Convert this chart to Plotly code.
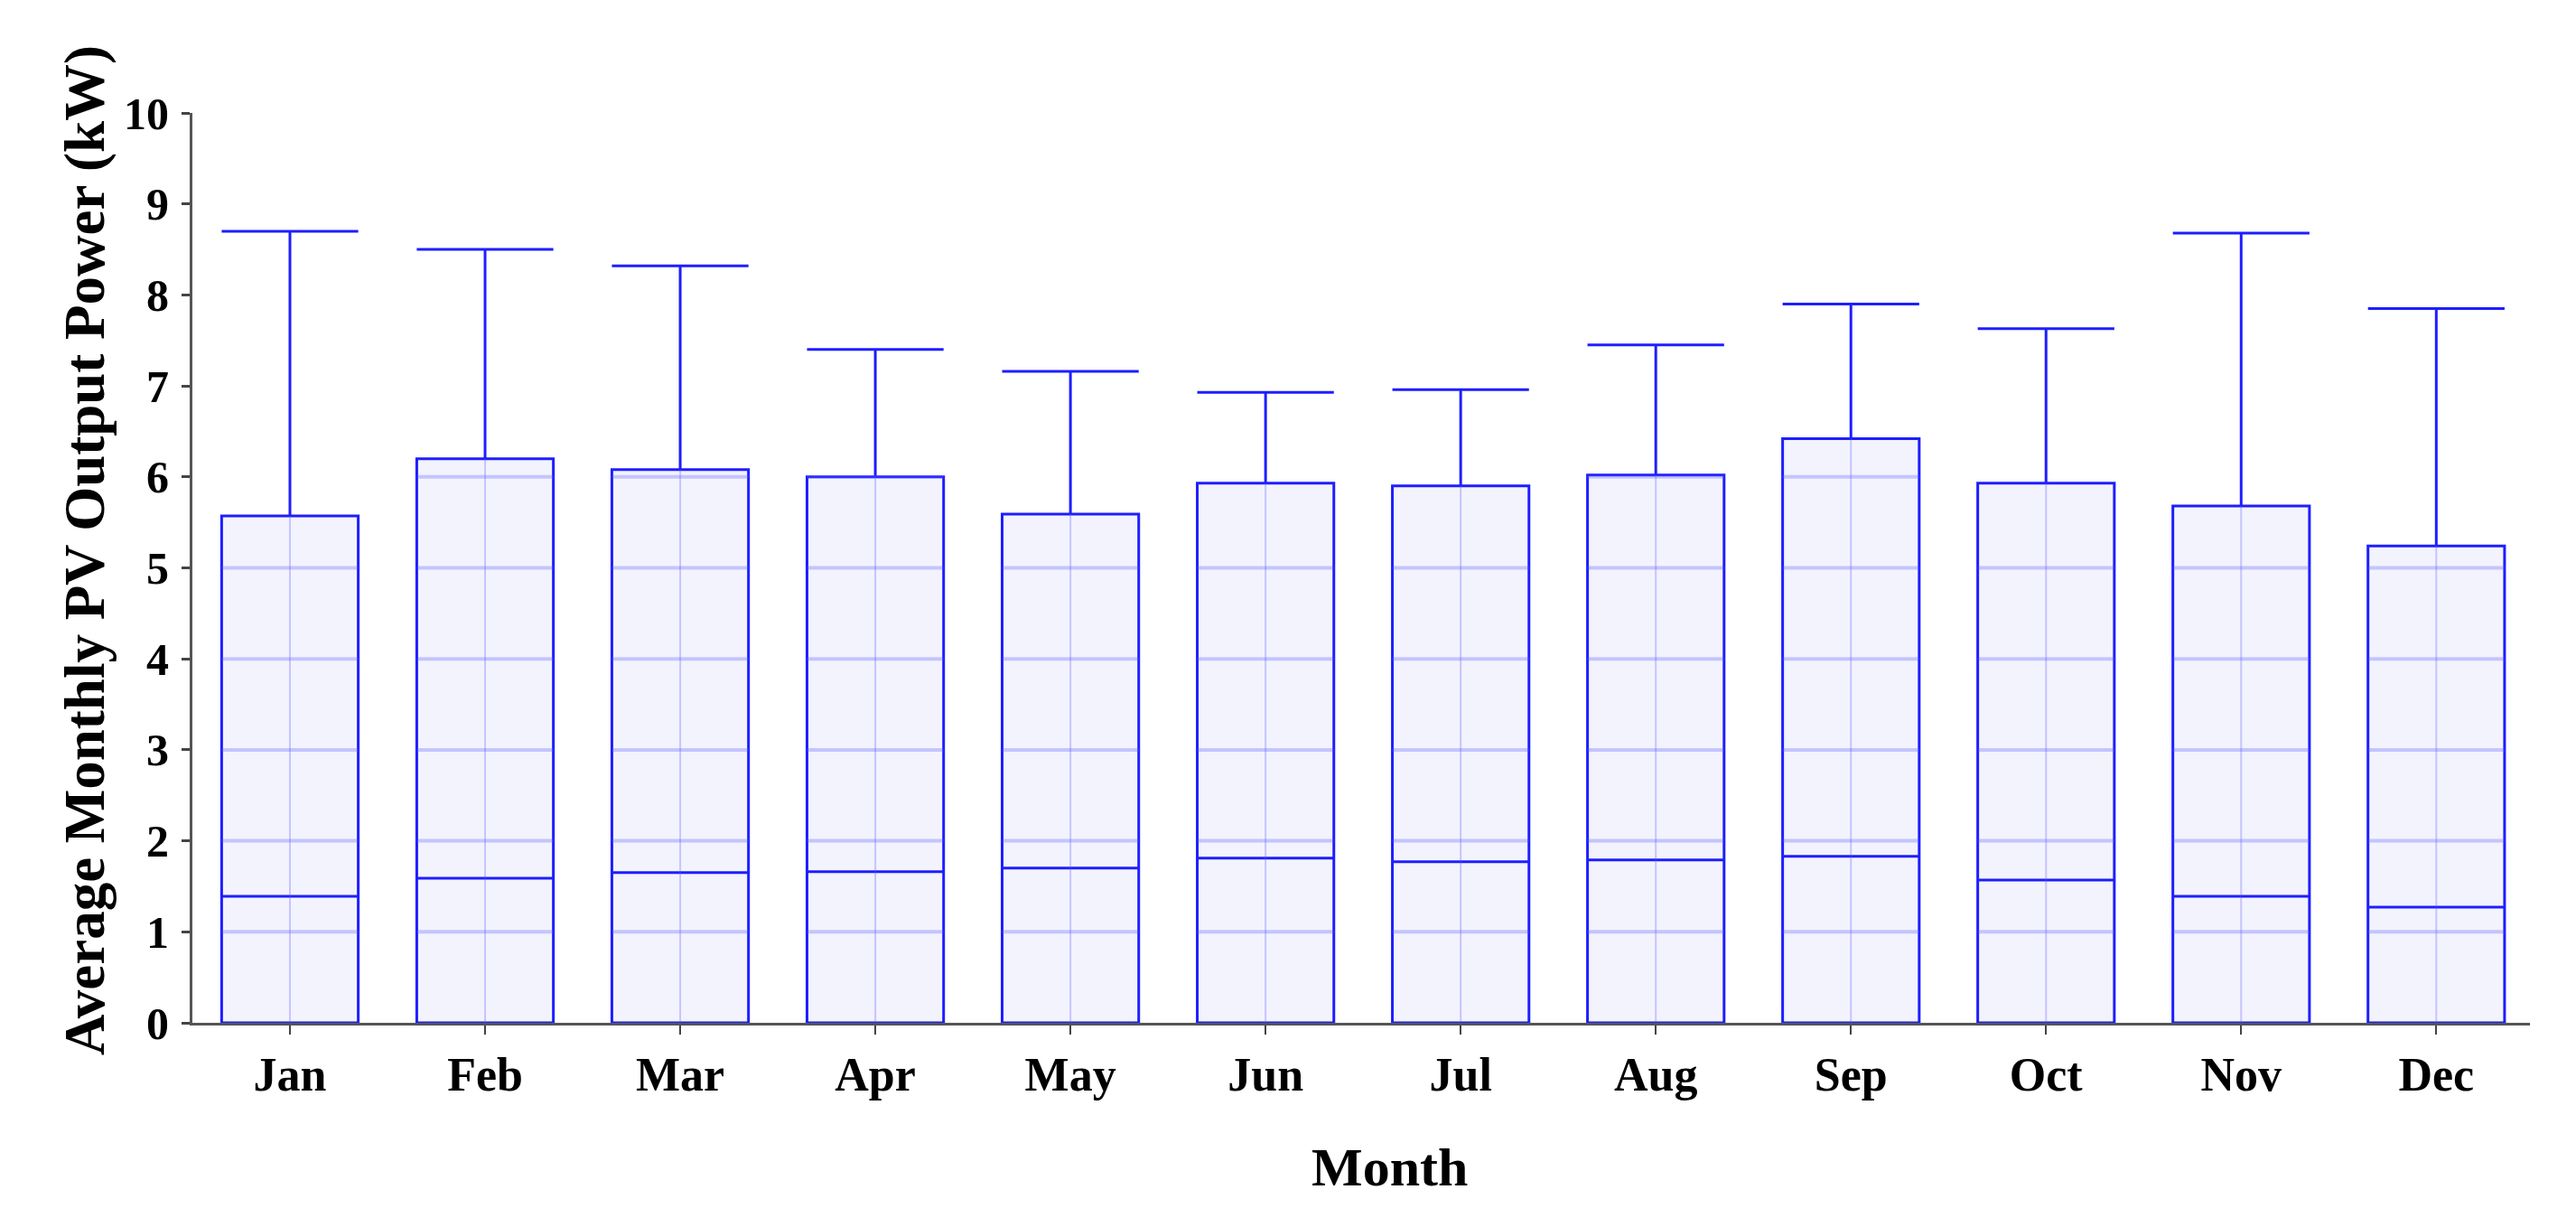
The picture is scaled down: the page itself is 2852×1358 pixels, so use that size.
import plotly.graph_objects as go

months = ["Jan", "Feb", "Mar", "Apr", "May", "Jun", "Jul", "Aug", "Sep", "Oct", "Nov", "Dec"]
lower = [0, 0, 0, 0, 0, 0, 0, 0, 0, 0, 0, 0]
q1 = [0, 0, 0, 0, 0, 0, 0, 0, 0, 0, 0, 0]
median = [1.39, 1.59, 1.65, 1.66, 1.70, 1.81, 1.77, 1.79, 1.83, 1.57, 1.39, 1.27]
q3 = [5.57, 6.20, 6.08, 6.00, 5.59, 5.93, 5.90, 6.02, 6.42, 5.93, 5.68, 5.24]
upper = [8.70, 8.50, 8.32, 7.40, 7.16, 6.93, 6.96, 7.45, 7.90, 7.63, 8.68, 7.85]
y_ticks = list(range(0, 11))

BOX_W = 0.7
FONT = "Liberation Serif, Times New Roman, serif"
xpos = list(range(len(months)))

# grid segments visible only inside boxes
hx, hy, vx, vy = [], [], [], []
for i, top in zip(xpos, q3):
    for k in y_ticks[1:]:
        if k <= top + 1e-9:
            hx += [i - BOX_W / 2, i + BOX_W / 2, None]
            hy += [k, k, None]
    vx += [i, i, None]
    vy += [0, top, None]

fig = go.Figure()
fig.add_trace(go.Scatter(x=hx, y=hy, mode="lines", hoverinfo="skip",
                         line=dict(color="rgba(90,90,255,0.30)", width=4), showlegend=False))
fig.add_trace(go.Scatter(x=vx, y=vy, mode="lines", hoverinfo="skip",
                         line=dict(color="rgba(90,90,255,0.30)", width=2), showlegend=False))
fig.add_trace(go.Box(
    x=xpos, q1=q1, median=median, q3=q3, lowerfence=lower, upperfence=upper,
    width=BOX_W, whiskerwidth=1, boxpoints=False,
    fillcolor="rgba(80,80,240,0.07)",
    line=dict(color="#1e1eff", width=3),
    showlegend=False,
))

fig.update_layout(
    width=2852, height=1358,
    paper_bgcolor="white", plot_bgcolor="white",
    margin=dict(l=205, r=59, t=117, b=234),
    font=dict(family=FONT, color="black"),
    annotations=[
        dict(text="<b>Month</b>", xref="paper", yref="paper", x=0.512, y=-0.1586,
             xanchor="center", yanchor="middle", showarrow=False,
             font=dict(family=FONT, size=60, color="black")),
        dict(text="<b>Average Monthly PV Output Power (kW)</b>", xref="paper", yref="paper",
             x=-0.0457, y=0.519, xanchor="center", yanchor="middle", textangle=-90,
             showarrow=False, font=dict(family=FONT, size=63, color="black")),
    ],
)
fig.update_xaxes(
    range=[-0.5, 11.48], tickmode="array", tickvals=xpos, ticktext=months,
    showgrid=False, zeroline=False, showline=True, linecolor="#555555", linewidth=3,
    ticks="outside", ticklen=10, tickwidth=2, tickcolor="#444444",
    tickfont=dict(family=FONT, size=52, color="black", weight="bold"),
    ticklabelstandoff=0,
)
fig.update_yaxes(
    range=[0, 10], tickmode="array", tickvals=y_ticks,
    showgrid=False, zeroline=False, showline=True, linecolor="#555555", linewidth=3,
    ticks="outside", ticklen=9, tickwidth=3, tickcolor="#444444",
    tickfont=dict(family=FONT, size=50, color="black", weight="bold"),
    ticklabelstandoff=4,
)

fig.write_html("out.html")
